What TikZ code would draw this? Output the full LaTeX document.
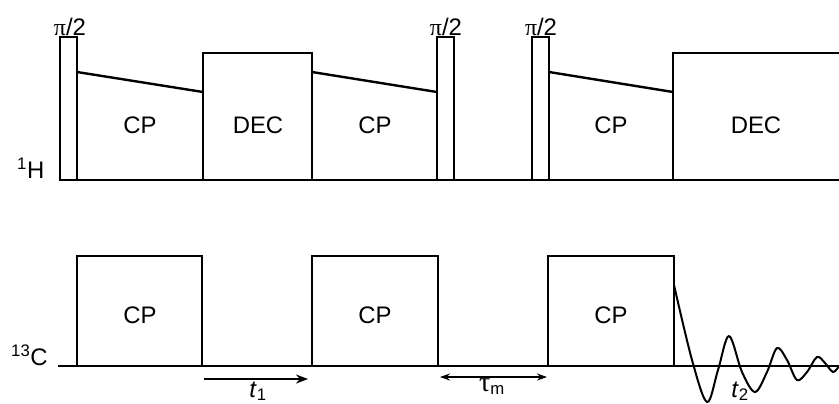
\documentclass[tikz,border=0pt]{standalone}
\usepackage{fontspec}
\setmainfont{Liberation Sans}
\newfontfamily\seriffont{Liberation Serif}
\usetikzlibrary{arrows.meta}
\begin{document}
\begin{tikzpicture}[x=1bp,y=-1bp,
  seq/.style={line width=2.4bp, line join=miter},
  lbl/.style={font=\fontsize{24}{26}\selectfont, inner sep=0pt, anchor=base},
  pil/.style={font=\fontsize{24}{26}\selectfont, inner sep=0pt, anchor=base},
  tarrow/.style={line width=2bp, -{Stealth[length=12bp,width=9bp]}},
  tdarrow/.style={line width=1.7bp, {Stealth[length=10bp,width=7bp]}-{Stealth[length=10bp,width=7bp]}}]
\useasboundingbox (0,0) rectangle (839,403);
% 1H channel
\draw[seq] (60,180) -- (60,37) -- (77,37) -- (77,180);
\draw[seq] (77,72) -- (203,92);
\draw[seq] (203,180) -- (203,53) -- (312,53) -- (312,180);
\draw[seq] (312,72) -- (437,92);
\draw[seq] (437,180) -- (437,37) -- (454,37) -- (454,180);
\draw[seq] (532,180) -- (532,37) -- (549,37) -- (549,180);
\draw[seq] (549,72) -- (673,92);
\draw[seq] (673,180) -- (673,53) -- (840,53);
\draw[seq] (59,180) -- (840,180);
% 13C channel
\draw[seq] (58,366) -- (840,366);
\draw[seq] (77,366) -- (77,256) -- (202,256) -- (202,366);
\draw[seq] (312,366) -- (312,256) -- (438,256) -- (438,366);
\draw[seq] (548,366) -- (548,256) -- (674,256) -- (674,366);
% FID
\draw[line width=2bp, line join=round] plot[smooth, tension=0.55] coordinates {(674,285) (692,360) (707,402) (718,370) (729,336) (742,372) (755,392) (767,372) (777,348) (787,360) (797,380) (807,372) (817,357) (825,363) (833,372) (839,366)};
% labels 1H
\node[pil] (p1) at (70,35) {{\seriffont π}/2};
\node[pil] (p2) at (446,35) {{\seriffont π}/2};
\node[pil] (p3) at (541,35) {{\seriffont π}/2};
\node[lbl] (cp1) at (140,133) {CP};
\node[lbl] (dec1) at (258,133) {DEC};
\node[lbl] (cp2) at (375,133) {CP};
\node[lbl] (cp3) at (611,133) {CP};
\node[lbl] (dec2) at (756,133) {DEC};
\node[lbl, anchor=base west] (h) at (17,178) {\textsuperscript{1}H};
% labels 13C
\node[lbl] (c1) at (140,323) {CP};
\node[lbl] (c2) at (375,323) {CP};
\node[lbl] (c3) at (611,323) {CP};
\node[lbl, anchor=base west] (c) at (11,365) {\textsuperscript{13}C};
% time arrows
\coordinate (t1a) at (204,379);
\coordinate (t1b) at (308,379);
\draw[tarrow] (t1a) -- (t1b);
\node[lbl] (t1) at (258,397) {\textit{t}\textsubscript{1}};
\coordinate (tma) at (440,377);
\coordinate (tmb) at (547,377);
\draw[tdarrow] (tma) -- (tmb);
\node[lbl] (tm) at (492,391) {{\seriffont\fontsize{28}{30}\selectfont τ}\textsubscript{m}};
\node[lbl] (t2) at (740,397) {\textit{t}\textsubscript{2}};
\end{tikzpicture}
\end{document}
